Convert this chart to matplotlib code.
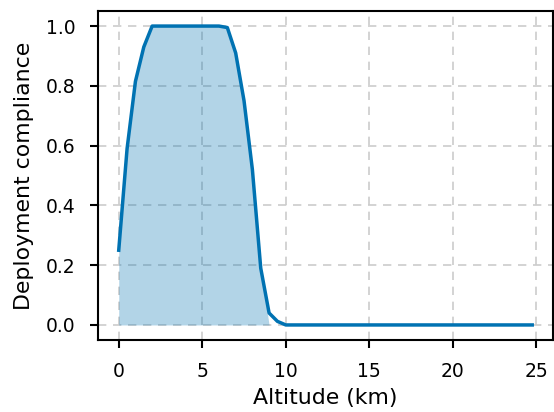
import matplotlib
matplotlib.use("Agg")
import matplotlib.pyplot as plt

# altitude grid (km) and deployment compliance at each altitude
altitude_km = [0.0, 0.5, 1.0, 1.5, 2.0, 2.5, 3.0, 3.5, 4.0, 4.5, 5.0, 5.5, 6.0, 6.5,
               7.0, 7.5, 8.0, 8.5, 9.0, 9.5, 10.0, 12.5, 15.0, 17.5, 20.0, 22.5, 24.75]
compliance = [0.25, 0.59, 0.815, 0.93, 1.0, 1.0, 1.0, 1.0, 1.0, 1.0, 1.0, 1.0, 1.0, 0.995,
              0.91, 0.75, 0.52, 0.19, 0.04, 0.012, 0.0, 0.0, 0.0, 0.0, 0.0, 0.0, 0.0]

LINE_COLOR = "#0072b2"

fig = plt.figure(figsize=(5.54, 4.12), dpi=100)
ax = fig.add_axes([0.177, 0.175, 0.821, 0.798])

# shade the band where compliance is substantial
ax.fill_between(altitude_km, 0, compliance, where=[c > 0.1 for c in compliance],
                interpolate=True, color=LINE_COLOR, alpha=0.3, linewidth=0)
ax.plot(altitude_km, compliance, color=LINE_COLOR, linewidth=2.5)

ax.grid(True, linestyle="--", color="#cccccc", linewidth=1.2, dashes=(5, 4))
ax.set_axisbelow(True)
ax.set_xticks([0, 5, 10, 15, 20, 25])
ax.set_yticks([0.0, 0.2, 0.4, 0.6, 0.8, 1.0])
ax.tick_params(labelsize=13.5, length=6, width=1.5, pad=10)
for s in ax.spines.values():
    s.set_linewidth(1.5)

ax.set_xlabel("Altitude (km)", fontsize=15.8, labelpad=5)
ax.set_ylabel("Deployment compliance", fontsize=15.8, labelpad=9)

fig.savefig("out.png", dpi=100)
